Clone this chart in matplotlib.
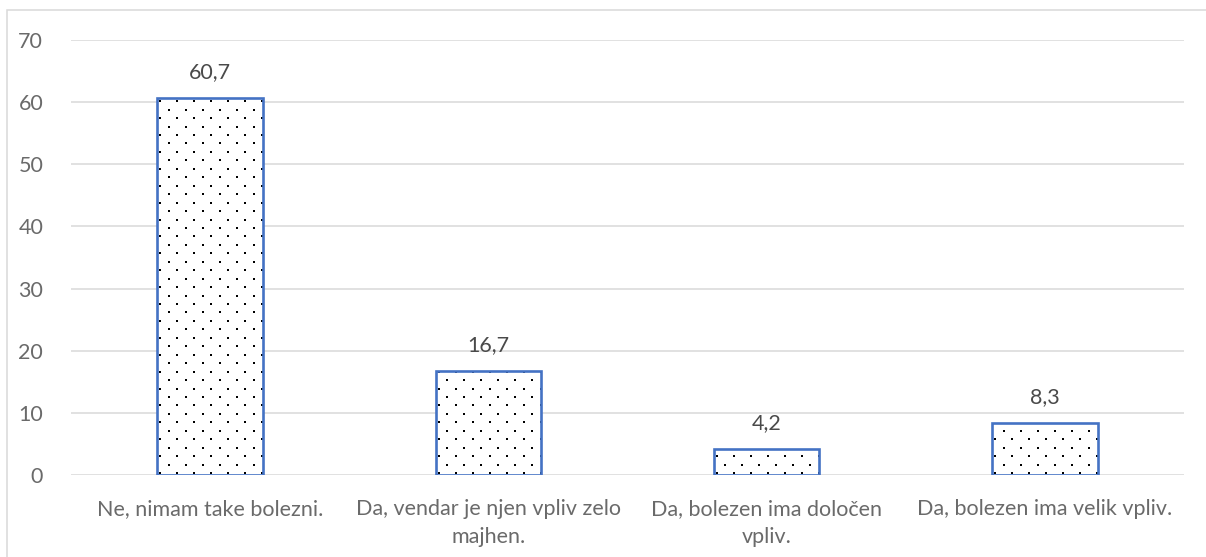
import matplotlib.pyplot as plt
import numpy as np
import matplotlib as mpl
from matplotlib.patches import Rectangle

mpl.rc('font', family='Lato', size=15.5)

categories = ['Ne, nimam take bolezni.',
              'Da, vendar je njen vpliv zelo\nmajhen.',
              'Da, bolezen ima določen\nvpliv.',
              'Da, bolezen ima velik vpliv.']
values = [60.7, 16.7, 4.2, 8.3]
value_labels = ['60,7', '16,7', '4,2', '8,3']
yticks = [0, 10, 20, 30, 40, 50, 60, 70]

W, H = 1206, 557
fig = plt.figure(figsize=(W / 100, H / 100), dpi=100)
ax = fig.add_axes([71 / W, 1 - 475 / H, (1184 - 71) / W, (475 - 40) / H])

x = np.arange(len(categories))
ax.set_xlim(-0.5, len(categories) - 0.5)
ax.set_ylim(0, 70)

# white fill, dotted texture, then blue edge on top
bars = ax.bar(x, values, width=0.38, color='white', edgecolor='none', zorder=2)

dx_px, dy_px = 17.0, 8.45
inv = ax.transData.inverted()
for b in bars:
    x0, y0 = ax.transData.transform((b.get_x(), 0))
    x1, y1 = ax.transData.transform((b.get_x() + b.get_width(), b.get_height()))
    pts = []
    row = 0
    yy = y0 + 2
    while yy < y1 + dy_px:
        off = 0 if row % 2 == 0 else dx_px / 2
        xx = x0 + 3 + off
        while xx < x1 + dx_px:
            pts.append((xx, yy))
            xx += dx_px
        yy += dy_px
        row += 1
    pts = inv.transform(np.array(pts))
    sc = ax.scatter(pts[:, 0], pts[:, 1], s=1.6, marker='s', color='black',
                    linewidths=0, zorder=3)
    sc.set_clip_path(b)

ax.bar(x, values, width=0.38, fill=False, edgecolor='#4472C4', linewidth=1.9, zorder=4)

for xi, v, lab in zip(x, values, value_labels):
    ax.annotate(lab, (xi, v), xytext=(0, 26), textcoords='offset pixels',
                ha='center', va='center', color='#4a4a4a', fontsize=15.5)

ax.set_yticks(yticks)
ax.set_yticklabels([str(t) for t in yticks])
ax.set_xticks(x)
ax.set_xticklabels(categories, linespacing=1.55)
ax.tick_params(axis='both', length=0, colors='#6a6a6a', labelsize=15.5)
ax.tick_params(axis='y', pad=20)
ax.tick_params(axis='x', pad=17)

ax.grid(axis='y', color='#d9d9d9', linewidth=1.1, zorder=0)
ax.set_axisbelow(True)
for s in ax.spines.values():
    s.set_visible(False)

# outer chart border
fig.patches.append(Rectangle((7 / W, -0.1), 1.2, 1 - 10 / H + 0.1,
                             transform=fig.transFigure, fill=False,
                             edgecolor='#d9d9d9', linewidth=1.1))

plt.savefig('out.png', dpi=100)
